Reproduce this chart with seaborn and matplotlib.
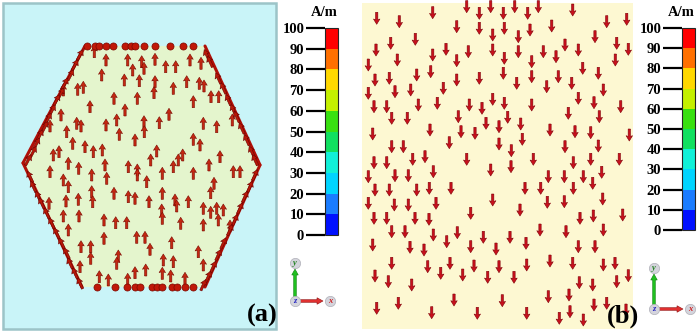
import numpy as np
import matplotlib
matplotlib.use("Agg")
import matplotlib.pyplot as plt
import seaborn as sns
from matplotlib.colors import ListedColormap, Normalize
from matplotlib.cm import ScalarMappable

sns.set_style("white")
plt.rcParams['font.family'] = ['Liberation Serif', 'DejaVu Serif']

# ---------------- data (pixel coordinates) ----------------
HEX_X = [85, 205, 260, 205, 82, 23]
HEX_Y = [46, 46, 165, 287, 287, 163]

# panel (a) interior arrows (pointing up)
A_X = [94.3, 106, 127.7, 141.7, 155, 165.7, 175.7, 190, 201, 132.7, 144, 101.7, 124.3, 139.3, 155, 173.3,
       186.7, 199.3, 204, 77.7, 83.3, 63.3, 114, 137.3, 154, 193.3, 211, 218.7, 90, 125, 61, 50, 76.7, 81,
       106, 116.7, 144, 159.3, 169, 203.3, 216.7, 232.3, 66.7, 119.3, 135, 144.3, 193.3, 200, 72.7, 53.3,
       59, 85, 93.3, 102.3, 156.7, 182.7, 178.3, 220, 68.3, 78.7, 105, 128.3, 137.3, 150.7, 162.3, 173.3,
       209, 233.3, 240, 50, 91.7, 106.7, 137.3, 146.7, 193.3, 214, 63.3, 68.3, 91.7, 114, 128.3, 135,
       162.3, 175, 188.3, 210.7, 49, 66, 78.3, 92.7, 149, 161.7, 176.7, 203.3, 210.7, 216.7, 223.3, 79,
       63.3, 104, 115.7, 126.7, 162.3, 180.7, 203.3, 218.3, 230, 68.3, 81, 90.7, 104, 118.3, 136.7, 145,
       150, 171.7, 163.3, 173.3, 198.3, 203.3, 80, 90.7, 116.7, 135, 145.7, 162.3, 170.7, 185, 99.3,
       108.3, 127.7]
A_Y = [51.7, 60, 60, 61.7, 59.3, 66.7, 66.7, 60, 63.3, 70, 68.3, 75, 80, 80.7, 81.7, 88.3, 81.7, 83.3,
       86, 89.3, 87.3, 90, 98.3, 98.3, 92.7, 101.7, 96.7, 96.7, 106.7, 110, 115, 126, 123.3, 126, 125,
       120, 121.7, 122.7, 114.3, 123.3, 126.7, 120, 131.7, 134.3, 140, 131.7, 139.3, 145, 143.3, 155,
       151.7, 146.7, 151.7, 150, 151, 155, 160, 156.7, 163.3, 168.3, 165, 166.7, 170, 160, 173.3, 166.7,
       165, 171.7, 171.7, 171.7, 175, 178.3, 175, 181.7, 173.3, 183.3, 180, 186.7, 191.7, 193.3, 196.7,
       198.3, 193.3, 200, 201.7, 192.7, 203.3, 201, 199.3, 201.7, 201.7, 210, 206, 208.3, 212.3, 208.3,
       210, 216, 216, 220, 222.7, 222.7, 218.3, 223.3, 225, 220, 226, 230, 246.7, 246.7, 238.3, 256,
       237.3, 237.3, 249.3, 242.7, 260, 261.7, 251.7, 265, 266.7, 258.3, 263.3, 272.7, 270, 273.3, 276,
       278.3, 276.7, 280, 279.3]

# panel (a) edge arrows, one list per hexagon side
EDGE_UL_X = [80, 75, 70.7, 65, 61, 56.7, 52.3, 48.3, 45, 40, 36.7, 33.3, 28.3]
EDGE_UL_Y = [55, 65, 75, 83.3, 93.3, 100, 110, 118.3, 126.7, 135, 143.3, 151.7, 160]
EDGE_LL_X = [30, 33.3, 38.3, 41.7, 46.7, 51.7, 56.7, 61.7, 66.7, 70, 75, 80]
EDGE_LL_Y = [176.7, 186.7, 196.7, 203.3, 213.3, 223.3, 233.3, 243.3, 253.3, 263.3, 273.3, 283.3]
EDGE_UR_X = [206.7, 210, 218.3, 223.3, 228.3, 233.3, 236.7, 241.7, 246.7, 251.7, 255]
EDGE_UR_Y = [55, 61.7, 78.3, 88.3, 100, 110, 116.7, 128.3, 140, 151.7, 160]
EDGE_LR_X = [255, 250, 245, 240, 235, 230, 223.3, 218.3, 213.3, 208.3, 203.3]
EDGE_LR_Y = [175, 186.7, 196.7, 208.3, 220, 230, 243.3, 255, 266.7, 276.7, 285]

TOP_DOT_X = [87.3, 95, 99.3, 106, 112.7, 125, 130.7, 135, 144, 155, 170, 183.3, 193.3]
BOT_DOT_X = [96.7, 115, 126.7, 135, 140, 151.7, 156.7, 161.7, 171.7, 176.7, 185, 193.3]

# panel (b) arrows (pointing down)
B_X = [466.7, 479.3, 490.7, 503.3, 514.7, 527.7, 538.3, 572.7, 376.7, 399.3, 432.7, 456.7, 479.3, 492.7,
       504.3, 518.3, 530, 551.7, 606.7, 626.7, 376, 390.7, 415.3, 432.7, 446, 468.3, 492.7, 504.3, 518.3,
       531.7, 543.3, 556, 565, 578.3, 595, 616.7, 628.3, 397.3, 456.7, 615.3, 368.3, 375, 389.3, 416.7,
       430.7, 456.7, 479.3, 503.3, 516.7, 531.7, 546.7, 558.3, 571.7, 582.7, 598.3, 368.3, 395, 410.7,
       443.3, 374, 386.7, 418.3, 437.3, 469.3, 482, 492.7, 504.3, 531.7, 578.3, 594, 603.3, 620.7, 391.7,
       407.3, 458.3, 461, 475, 486, 499, 507.7, 520.7, 522.3, 568.3, 550, 575, 590.7, 599.3, 372.7, 430,
       449.3, 499, 511.3, 565, 598.3, 629.3, 374, 386.7, 412.7, 425, 403.3, 391.7, 466.7, 490.7, 511,
       533.3, 573.3, 590.7, 619.3, 368.3, 395, 408.3, 433.3, 548.3, 564.3, 601.7, 583.3, 375, 389.3,
       416.7, 429.3, 451, 525, 540.7, 573.3, 592.7, 368.3, 394.3, 408.3, 436, 492.7, 547.3, 564.3, 602.7,
       470.7, 520, 374, 386.7, 415, 429, 391.7, 405, 433.3, 446.7, 457.3, 483.3, 496, 510, 526, 540, 566,
       580, 593.3, 603.3, 622.7, 372.7, 410, 424, 470.7, 391.7, 427.7, 440.7, 450, 462.7, 474, 487.7, 499,
       514, 526.7, 550, 572.7, 578.3, 595, 603.3, 615, 628.3, 375, 388.3, 411.7, 579.3, 592.7, 616.7,
       376.7, 398.3, 431.7, 454, 477.3, 502.3, 526.7, 548.3, 559.3, 570, 569, 583.3, 594, 606.7, 626]
B_Y = [6.7, 13.3, 6.7, 13.3, 6.7, 13.3, 6.7, 10, 18.3, 21.7, 12.7, 26.7, 28.3, 35, 28.3, 36.7, 30, 26,
       21.7, 19.3, 50, 43.3, 39.3, 55, 49.3, 51.7, 50, 58.3, 51.7, 61.7, 51.7, 56.7, 45, 50, 36.7, 43.3,
       49.3, 60, 60.7, 60, 65, 80, 78.3, 75, 71.7, 80, 78.3, 73.3, 83.3, 76.7, 86.7, 76.7, 83.3, 68.3,
       73.3, 93.3, 91.7, 90, 88.3, 106.7, 106.7, 105, 103.3, 105, 108.3, 99.3, 103.3, 105, 98.3, 102.7,
       90, 106.7, 118.3, 118.3, 116.7, 131.7, 133.3, 123.3, 126.7, 117.3, 124, 139.3, 113.3, 130, 131.7,
       132.7, 116.7, 134, 130, 142.7, 144, 150.7, 146.7, 146, 135, 162.7, 162.7, 159.3, 156.7, 146.7,
       146.7, 159.3, 170, 166.7, 159.3, 162.7, 159.3, 159.3, 176.7, 175.7, 175.7, 171.7, 176.7, 176.7,
       172.3, 176.7, 190, 190, 190, 188.3, 188.3, 188.3, 188.3, 188.3, 183.3, 203.3, 205, 205, 203.3,
       200, 202.3, 201.7, 199, 213.3, 210, 218.3, 218.3, 218.3, 219.3, 231.7, 231.7, 235, 241.7, 232.7,
       237.3, 249, 237.3, 243.3, 230, 231.7, 218.3, 216, 230, 215, 245, 247.3, 250, 246.7, 263.3, 266.7,
       273.3, 263.3, 275, 266, 277.3, 266.7, 277.3, 265, 261, 263.3, 246.7, 246.7, 265, 263.3, 275.7,
       276, 281.7, 285, 282.7, 285, 281.7, 308.3, 303.3, 312.7, 300, 313.3, 300.7, 313.3, 296.7, 318.3,
       311.7, 295, 320, 305, 303.3, 310]

CB_TICKS = [0, 10, 20, 30, 40, 50, 60, 70, 80, 90, 100]
CB_COLORS = ['#0010ff', '#1a7cff', '#00d4ff', '#10f0d8', '#10e060', '#38e010',
             '#c4f000', '#ffd800', '#ff7000', '#ff0000']
UNIT_LABEL = "A/m"
PANEL_LABELS = ["(a)", "(b)"]
AXIS_NAMES = ["y", "z", "x"]

# ---------------- figure ----------------
W, H = 699, 332
fig = plt.figure(figsize=(W / 100, H / 100), dpi=100)
fig.patch.set_facecolor('white')
ov = fig.add_axes([0, 0, 1, 1])
ov.set_xlim(0, W)
ov.set_ylim(H, 0)
ov.axis('off')

# panel backgrounds
ov.add_patch(plt.Rectangle((3, 3), 273, 326, facecolor='#c9f4f8', edgecolor='#9cc4c8', lw=1.8, zorder=0))
ov.add_patch(plt.Polygon(list(zip(HEX_X, HEX_Y)), closed=True, facecolor='#e4f5cd', edgecolor='none', zorder=1))
ov.add_patch(plt.Rectangle((362, 3), 271, 326, facecolor='#fdf8d2', edgecolor='none', zorder=0))

# dense magnetisation band along the slanted hexagon sides
for i0, i1 in [(0, 5), (5, 4), (1, 2), (2, 3)]:
    ov.plot([HEX_X[i0], HEX_X[i1]], [HEX_Y[i0], HEX_Y[i1]], color='#b01008', lw=2.2, zorder=2,
            solid_capstyle='round')

L = 12.0
qkw = dict(angles='xy', scale_units='xy', scale=1, units='xy', width=2.3, headwidth=2.8,
           headlength=2.3, headaxislength=2.0, pivot='middle', zorder=3, linewidth=0.4)

# panel (a) interior arrows
ax_ = np.array(A_X); ay_ = np.array(A_Y)
ov.quiver(ax_, ay_, np.zeros_like(ax_), -L * np.ones_like(ay_), color='#c42812', edgecolor='#7a0800', **qkw)

# edge arrows along hexagon sides
def edge_quiver(xs, ys, p0, p1):
    d = np.array(p1, float) - np.array(p0, float)
    d = d / np.hypot(*d) * L
    xs = np.array(xs); ys = np.array(ys)
    ov.quiver(xs, ys, d[0] * np.ones_like(xs), d[1] * np.ones_like(ys),
              color='#b81808', edgecolor='#6a0000', **qkw)

V = list(zip(HEX_X, HEX_Y))
edge_quiver(EDGE_UL_X, EDGE_UL_Y, V[5], V[0])
edge_quiver(EDGE_LL_X, EDGE_LL_Y, V[4], V[5])
edge_quiver(EDGE_UR_X, EDGE_UR_Y, V[2], V[1])
edge_quiver(EDGE_LR_X, EDGE_LR_Y, V[3], V[2])

# dots on top / bottom edges
sns.scatterplot(x=TOP_DOT_X, y=[HEX_Y[0]] * len(TOP_DOT_X), ax=ov, s=26, color='#c01808',
                edgecolor='#7a0800', linewidth=0.5, zorder=4, legend=False)
sns.scatterplot(x=BOT_DOT_X, y=[HEX_Y[3]] * len(BOT_DOT_X), ax=ov, s=26, color='#c01808',
                edgecolor='#7a0800', linewidth=0.5, zorder=4, legend=False)

# panel (b) arrows
bx = np.array(B_X); by = np.array(B_Y)
ov.quiver(bx, by, np.zeros_like(bx), L * np.ones_like(by), color='#c8101c', edgecolor='#800008', **qkw)

# panel labels
ov.text(262, 315, PANEL_LABELS[0], fontsize=19, fontweight='bold', ha='center', va='center',
        color='black', zorder=6)
ov.text(623, 316, PANEL_LABELS[1], fontsize=19, fontweight='bold', ha='center', va='center',
        color='black', zorder=6)

# colour bars
cmap = ListedColormap(CB_COLORS)
norm = Normalize(0, 100)
for (x0, y0, x1, y1, ux) in [(325, 28, 338, 235, 324), (682, 28, 695, 230, 681)]:
    cax = fig.add_axes([x0 / W, 1 - y1 / H, (x1 - x0) / W, (y1 - y0) / H])
    cb = fig.colorbar(ScalarMappable(norm=norm, cmap=cmap), cax=cax, ticks=CB_TICKS)
    cax.yaxis.set_ticks_position('left')
    cax.yaxis.set_label_position('left')
    cax.tick_params(axis='y', length=14, width=1.6, pad=1, labelsize=10.5, direction='out', color='black',
                    labelcolor='black')
    for t in cax.get_yticklabels():
        t.set_fontweight('bold')
    cb.outline.set_linewidth(0.8)
    ov.text(ux, 13, UNIT_LABEL, fontsize=10.5, fontweight='bold', ha='center', va='center', color='black')

# axis triads
def triad(cx, yy, zy, xx):
    ov.arrow(cx, zy - 4, 0, -(zy - yy - 10), width=2.6, head_width=6.5, head_length=6,
             length_includes_head=True, color='#20c020', ec='#108010', lw=0.4, zorder=5)
    ov.arrow(cx + 5, zy, xx - cx - 12, 0, width=2.6, head_width=6.5, head_length=6,
             length_includes_head=True, color='#e03030', ec='#901010', lw=0.4, zorder=5)
    sns.scatterplot(x=[cx, cx, xx], y=[yy, zy, zy], ax=ov, s=55, color='#d4d4dc',
                    edgecolor='#b0b0b8', linewidth=0.5, zorder=6, legend=False)
    for (px, py, lab, c) in [(cx, yy, AXIS_NAMES[0], '#208020'), (cx, zy, AXIS_NAMES[1], '#2020c0'),
                             (xx, zy, AXIS_NAMES[2], '#d02020')]:
        ov.text(px, py, lab, fontsize=6, fontstyle='italic', fontweight='bold', color=c,
                ha='center', va='center', zorder=7)

triad(295, 263, 301, 330)
triad(654, 268, 309, 690)

fig.savefig('out.png', dpi=100)
